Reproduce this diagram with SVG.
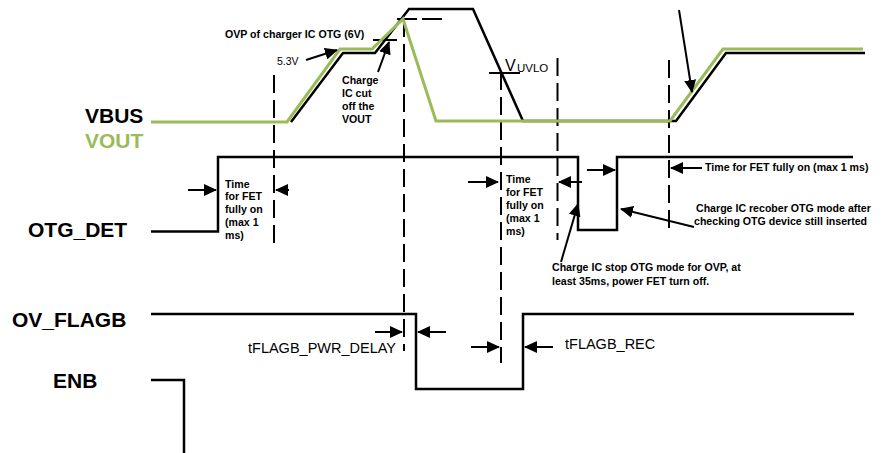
<svg xmlns="http://www.w3.org/2000/svg" width="883" height="453" viewBox="0 0 883 453">
<style>
.sig{fill:none;stroke:#000;stroke-width:2.5;stroke-linejoin:miter}
.grn{fill:none;stroke:#9bbb59;stroke-width:3}
.dash{fill:none;stroke:#000;stroke-width:2;stroke-dasharray:18 7}
.arr{fill:none;stroke:#000;stroke-width:2;marker-end:url(#ah)}
.tick{fill:none;stroke:#000;stroke-width:2}
.lbl{font-family:"Liberation Sans",Arial,sans-serif;font-weight:bold;font-size:21px;fill:#000}
.note{font-family:"Liberation Sans",Arial,sans-serif;font-weight:bold;font-size:10.6px;fill:#000}
.reg{font-family:"Liberation Sans",Arial,sans-serif;font-size:14.5px;fill:#000}
</style>
<defs>
<marker id="ah" viewBox="0 0 13 12" refX="12" refY="6" markerWidth="13" markerHeight="12" orient="auto" markerUnits="userSpaceOnUse">
<path d="M0,0 L13,6 L0,12 z" fill="#000"/>
</marker>
</defs>

<g id="labels">
<text class="lbl" x="85" y="123">VBUS</text>
<text class="lbl" x="85" y="148" style="fill:#9bbb59">VOUT</text>
<text class="lbl" x="28" y="237">OTG_DET</text>
<text class="lbl" x="12" y="327">OV_FLAGB</text>
<text class="lbl" x="53" y="388">ENB</text>
</g>

<g id="guides">
<line class="dash" x1="274" y1="75" x2="274" y2="246"/>
<line class="dash" x1="404" y1="19" x2="404" y2="351"/>
<line class="dash" x1="501" y1="72" x2="501" y2="363"/>
<line class="dash" x1="557.5" y1="58" x2="557.5" y2="240"/>
<line class="dash" x1="669" y1="60" x2="669" y2="232"/>
<line class="tick" x1="397" y1="19" x2="417" y2="19"/>
<line class="tick" x1="422" y1="19" x2="442" y2="19"/>
<line class="tick" x1="373" y1="40" x2="397" y2="40"/>
<line class="tick" x1="489" y1="73" x2="520" y2="73"/>
</g>

<g id="vbus">
<path class="sig" d="M291,122 L343,53 H375 L409,9 H473 L523,121 H676 L726,53 H865"/>
</g>
<g id="vout">
<path class="grn" d="M151,122 H287 L340,49 H372 L403,19 L436,121 H670 L723,49 H863"/>
</g>
<g id="otg_det">
<path class="sig" d="M151,231.5 H218 V157 H578 V230 H617 V157 H853"/>
</g>
<g id="ov_flagb">
<path class="sig" d="M151,314 H416 V389 H523 V314 H854"/>
</g>
<g id="enb">
<path class="sig" d="M151,380 H184 V453"/>
</g>

<g id="connectors">
<line class="arr" x1="306" y1="60" x2="337" y2="50"/>
<line class="arr" x1="378" y1="72" x2="389" y2="42"/>
<line class="arr" x1="679" y1="10" x2="692" y2="92"/>
<line class="arr" x1="188" y1="190" x2="216" y2="190"/>
<line class="arr" x1="289" y1="190" x2="276" y2="190"/>
<line class="arr" x1="468" y1="182" x2="498" y2="182"/>
<line class="arr" x1="582" y1="182" x2="559" y2="182"/>
<line class="arr" x1="587" y1="170" x2="615" y2="170"/>
<line class="arr" x1="702" y1="168" x2="671" y2="168"/>
<line class="arr" x1="694" y1="227" x2="621" y2="209"/>
<line class="arr" x1="561" y1="262" x2="578" y2="204"/>
<line class="arr" x1="375" y1="332" x2="402" y2="332"/>
<line class="arr" x1="446" y1="332" x2="418" y2="332"/>
<line class="arr" x1="471" y1="347" x2="499" y2="347"/>
<line class="arr" x1="553" y1="347" x2="525" y2="347"/>
</g>

<g id="annotations">
<text class="note" x="225" y="38">OVP of charger IC OTG (6V)</text>
<text x="277" y="65" style="font-family:'Liberation Sans',Arial,sans-serif;font-size:10.5px">5.3V</text>
<text class="note" x="342"><tspan x="342" y="83.5">Charge</tspan><tspan x="342" y="96.7">IC cut</tspan><tspan x="342" y="110">off the</tspan><tspan x="342" y="123">VOUT</tspan></text>
<text x="505" y="71" style="font-family:'Liberation Sans',Arial,sans-serif;font-size:16px">V</text>
<text x="517" y="71.5" style="font-family:'Liberation Sans',Arial,sans-serif;font-size:11.5px">UVLO</text>
<text class="note"><tspan x="225" y="187.5">Time</tspan><tspan x="225" y="200.3">for FET</tspan><tspan x="225" y="213.1">fully on</tspan><tspan x="225" y="225.9">(max 1</tspan><tspan x="225" y="238.7">ms)</tspan></text>
<text class="note"><tspan x="506" y="183.3">Time</tspan><tspan x="506" y="196.1">for FET</tspan><tspan x="506" y="208.9">fully on</tspan><tspan x="506" y="221.7">(max 1</tspan><tspan x="506" y="234.5">ms)</tspan></text>
<text class="note" x="705" y="170.5">Time for FET fully on (max 1 ms)</text>
<text class="note"><tspan x="696" y="211.5">Charge IC recober OTG mode after</tspan><tspan x="694" y="224.5">checking OTG device still inserted</tspan></text>
<text class="note"><tspan x="552" y="271">Charge IC stop OTG mode for OVP, at</tspan><tspan x="552" y="285">least 35ms, power FET turn off.</tspan></text>
<text class="reg" x="248" y="353">tFLAGB_PWR_DELAY</text>
<text class="reg" x="565" y="349">tFLAGB_REC</text>
</g>
</svg>
